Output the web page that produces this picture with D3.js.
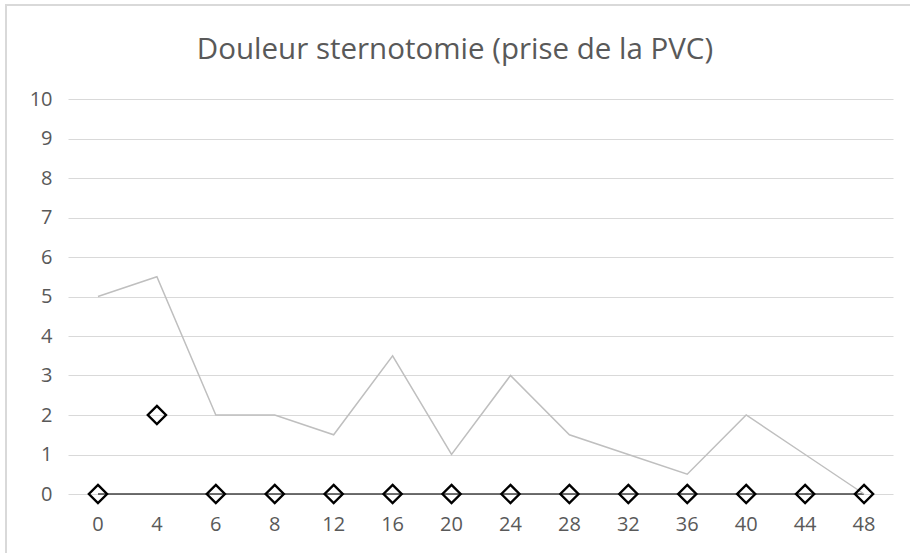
<!DOCTYPE html>
<html>
<head>
<meta charset="utf-8">
<script src="https://cdn.jsdelivr.net/npm/d3@7"></script>
<style>
  body { margin: 0; background: #fff; }
  svg text { font-family: "Open Sans", sans-serif; fill: #595959; }
</style>
</head>
<body>
<div id="chart"></div>
<script>
// chart data
const categories = ["0", "4", "6", "8", "12", "16", "20", "24", "28", "32", "36", "40", "44", "48"];
const douleur = [5, 5.5, 2, 2, 1.5, 3.5, 1, 3, 1.5, 1, 0.5, 2, 1, 0];
const marqueurs = [0, 2, 0, 0, 0, 0, 0, 0, 0, 0, 0, 0, 0, 0];
const baseLine = [0, 0, 0, 0, 0, 0, 0, 0, 0, 0, 0, 0, 0, 0];
const yTicks = [0, 1, 2, 3, 4, 5, 6, 7, 8, 9, 10];
const title = "Douleur sternotomie (prise de la PVC)";

const width = 910, height = 553;
const margin = { left: 68.5, right: 16.5, top: 99, bottom: 59 };

const svg = d3.select("#chart").append("svg")
  .attr("width", width)
  .attr("height", height);

// chart area border (only top/left visible in the crop)
svg.append("rect")
  .attr("x", 6).attr("y", 5)
  .attr("width", width + 20).attr("height", height + 20)
  .attr("fill", "none")
  .attr("stroke", "#d9d9d9")
  .attr("stroke-width", 2);

const x = d3.scaleBand()
  .domain(categories)
  .range([margin.left, width - margin.right]);

const y = d3.scaleLinear()
  .domain([0, 10])
  .range([height - margin.bottom, margin.top]);

const cx = (d, i) => x(categories[i]) + x.bandwidth() / 2;

// title
svg.append("text")
  .attr("x", 455)
  .attr("y", 59)
  .attr("text-anchor", "middle")
  .style("font-size", "29.5px")
  .text(title);

// gridlines
svg.append("g")
  .selectAll("line")
  .data(yTicks)
  .join("line")
  .attr("x1", margin.left)
  .attr("x2", width - margin.right)
  .attr("y1", d => Math.round(y(d)) + 0.5)
  .attr("y2", d => Math.round(y(d)) + 0.5)
  .attr("stroke", "#d9d9d9")
  .attr("stroke-width", 1);

// y axis labels
const yAxis = svg.append("g")
  .attr("transform", `translate(${margin.left - 16},0)`)
  .call(d3.axisLeft(y).tickValues(yTicks).tickSize(0).tickPadding(0))
  .style("font-size", "20px");
yAxis.select(".domain").remove();

// x axis labels
const xAxis = svg.append("g")
  .attr("transform", `translate(0,${height - margin.bottom + 23})`)
  .call(d3.axisBottom(x).tickSize(0).tickPadding(0))
  .style("font-size", "20px");
xAxis.select(".domain").remove();

// dark zero series line
svg.append("path")
  .datum(baseLine)
  .attr("fill", "none")
  .attr("stroke", "#404040")
  .attr("stroke-width", 1.5)
  .attr("d", d3.line().x(cx).y(d => y(d)));

// pain line
svg.append("path")
  .datum(douleur)
  .attr("fill", "none")
  .attr("stroke", "#bfbfbf")
  .attr("stroke-width", 1.5)
  .attr("d", d3.line().x(cx).y(d => y(d)));

// diamond markers
const diamond = d3.symbol().type(d3.symbolDiamond2).size(210);
svg.append("g")
  .selectAll("path")
  .data(marqueurs)
  .join("path")
  .attr("d", diamond)
  .attr("transform", (d, i) => `translate(${cx(d, i)},${y(d)})`)
  .attr("fill", "none")
  .attr("stroke", "#000")
  .attr("stroke-width", 2.4);
</script>
</body>
</html>
